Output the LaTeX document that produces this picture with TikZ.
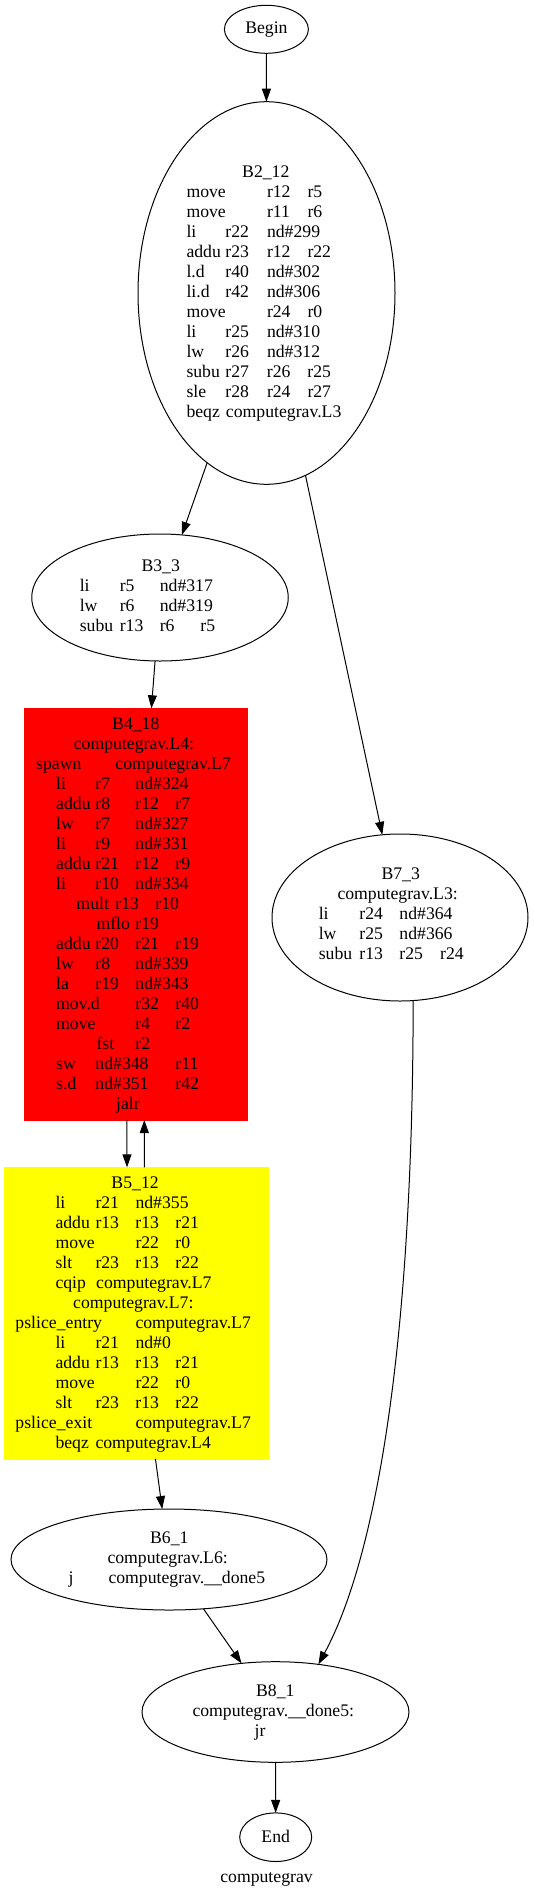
\documentclass[tikz,border=0pt]{standalone}
\usepackage{fontspec}
\setmainfont{Liberation Serif}
\usetikzlibrary{shapes.geometric,arrows.meta}
\definecolor{gvred}{RGB}{255,0,0}
\definecolor{gvyellow}{RGB}{255,255,0}
\newcommand\F[2]{\rlap{\hspace*{#1pt}#2}}
\newcommand\Ln[1]{\hbox{#1}}
\newcommand\Blk[1]{\vtop{\baselineskip=20pt\lineskiplimit=-100pt\lineskip=0pt #1}}
\begin{document}
\begin{tikzpicture}[x=1pt,y=-1pt,
  font=\fontsize{17.7}{20}\selectfont,
  ell/.style={ellipse, draw, line width=1pt, inner sep=0pt, outer sep=0pt},
  box/.style={rectangle, inner sep=0pt, outer sep=0pt},
  txt/.style={inner sep=0pt, outer sep=0pt, anchor=base west},
  ctxt/.style={inner sep=0pt, outer sep=0pt, anchor=base},
  edge/.style={-{Triangle[length=13pt,width=9pt]}, line width=1pt}]
\useasboundingbox (0,0) rectangle (533,1889);

% shapes
\node[ell, minimum width=84pt, minimum height=48pt] (begin) at (266.4,29.3) {};
\node[ell, minimum width=257pt, minimum height=382.6pt] (b2) at (266.5,293) {};
\node[ell, minimum width=256.5pt, minimum height=127pt] (b3) at (160,597.5) {};
\node[box, fill=gvred, draw=gvred, minimum width=223.3pt, minimum height=411.7pt] (b4) at (135.65,914.15) {};
\node[box, fill=gvyellow, draw=gvyellow, minimum width=263.7pt, minimum height=291.5pt] (b5) at (135.85,1313.05) {};
\node[ell, minimum width=256pt, minimum height=167pt] (b7) at (400,917.5) {};
\node[ell, minimum width=316pt, minimum height=101pt] (b6) at (169,1559.5) {};
\node[ell, minimum width=267pt, minimum height=100.6pt] (b8) at (275.5,1712) {};
\node[ell, minimum width=72pt, minimum height=48.6pt] (end) at (275.7,1837.2) {};

% texts
\node[ctxt] (begint) at (266.4,34) {Begin};
\node[ctxt] (endt) at (275.7,1842) {End};
\node[ctxt] (title) at (266.5,1882) {computegrav};

\node[txt] (b2t) at (186,178) {\Blk{%
\Ln{\F{55.7}{B2\_12}}
\Ln{\F{0}{move}\F{80.5}{r12}\F{121}{r5}}
\Ln{\F{0}{move}\F{80.5}{r11}\F{121}{r6}}
\Ln{\F{0}{li}\F{39}{r22}\F{80.5}{nd\#299}}
\Ln{\F{0}{addu}\F{39}{r23}\F{80.5}{r12}\F{121}{r22}}
\Ln{\F{0}{l.d}\F{39}{r40}\F{80.5}{nd\#302}}
\Ln{\F{0}{li.d}\F{39}{r42}\F{80.5}{nd\#306}}
\Ln{\F{0}{move}\F{80.5}{r24}\F{121}{r0}}
\Ln{\F{0}{li}\F{39}{r25}\F{80.5}{nd\#310}}
\Ln{\F{0}{lw}\F{39}{r26}\F{80.5}{nd\#312}}
\Ln{\F{0}{subu}\F{39}{r27}\F{80.5}{r26}\F{121}{r25}}
\Ln{\F{0}{sle}\F{39}{r28}\F{80.5}{r24}\F{121}{r27}}
\Ln{\F{0}{beqz}\F{39.5}{computegrav.L3}}}};

\node[txt] (b3t) at (79.3,571.7) {\Blk{%
\Ln{\F{61.7}{B3\_3}}
\Ln{\F{0}{li}\F{40}{r5}\F{80}{nd\#317}}
\Ln{\F{0}{lw}\F{40}{r6}\F{80}{nd\#319}}
\Ln{\F{0}{subu}\F{40}{r13}\F{80}{r6}\F{120.7}{r5}}}};

\node[txt] (b4t) at (35.7,729.3) {\Blk{%
\Ln{\F{76}{B4\_18}}
\Ln{\F{37.6}{computegrav.L4:}}
\Ln{\F{0}{spawn}\F{79.3}{computegrav.L7}}
\Ln{\F{20}{li}\F{59.3}{r7}\F{99.3}{nd\#324}}
\Ln{\F{20}{addu}\F{59.3}{r8}\F{99.3}{r12}\F{139.3}{r7}}
\Ln{\F{20}{lw}\F{59.3}{r7}\F{99.3}{nd\#327}}
\Ln{\F{20}{li}\F{59.3}{r9}\F{99.3}{nd\#331}}
\Ln{\F{20}{addu}\F{59.3}{r21}\F{99.3}{r12}\F{139.3}{r9}}
\Ln{\F{20}{li}\F{59.3}{r10}\F{99.3}{nd\#334}}
\Ln{\F{40.3}{mult}\F{79.3}{r13}\F{119.3}{r10}}
\Ln{\F{60.3}{mflo}\F{99.3}{r19}}
\Ln{\F{20}{addu}\F{59.3}{r20}\F{99.3}{r21}\F{139.3}{r19}}
\Ln{\F{20}{lw}\F{59.3}{r8}\F{99.3}{nd\#339}}
\Ln{\F{20}{la}\F{59.3}{r19}\F{99.3}{nd\#343}}
\Ln{\F{20}{mov.d}\F{99.3}{r32}\F{139.3}{r40}}
\Ln{\F{20}{move}\F{99.3}{r4}\F{139.3}{r2}}
\Ln{\F{60.3}{fst}\F{99.3}{r2}}
\Ln{\F{20}{sw}\F{59.3}{nd\#348}\F{139.3}{r11}}
\Ln{\F{20}{s.d}\F{59.3}{nd\#351}\F{139.3}{r42}}
\Ln{\F{80}{jalr}}}};

\node[txt] (b5t) at (15,1188.3) {\Blk{%
\Ln{\F{96}{B5\_12}}
\Ln{\F{40}{li}\F{80}{r21}\F{120}{nd\#355}}
\Ln{\F{40}{addu}\F{80}{r13}\F{120}{r13}\F{160}{r21}}
\Ln{\F{40}{move}\F{120}{r22}\F{160}{r0}}
\Ln{\F{40}{slt}\F{80}{r23}\F{120}{r13}\F{160}{r22}}
\Ln{\F{40}{cqip}\F{80.7}{computegrav.L7}}
\Ln{\F{57.7}{computegrav.L7:}}
\Ln{\F{0}{pslice\_entry}\F{120}{computegrav.L7}}
\Ln{\F{40}{li}\F{80}{r21}\F{120}{nd\#0}}
\Ln{\F{40}{addu}\F{80}{r13}\F{120}{r13}\F{160}{r21}}
\Ln{\F{40}{move}\F{120}{r22}\F{160}{r0}}
\Ln{\F{40}{slt}\F{80}{r23}\F{120}{r13}\F{160}{r22}}
\Ln{\F{0}{pslice\_exit}\F{120}{computegrav.L7}}
\Ln{\F{40}{beqz}\F{80}{computegrav.L4}}}};

\node[txt] (b7t) at (318.3,879.5) {\Blk{%
\Ln{\F{62.7}{B7\_3}}
\Ln{\F{18.7}{computegrav.L3:}}
\Ln{\F{0}{li}\F{40.7}{r24}\F{80.7}{nd\#364}}
\Ln{\F{0}{lw}\F{40.7}{r25}\F{80.7}{nd\#366}}
\Ln{\F{0}{subu}\F{40.7}{r13}\F{80.7}{r25}\F{121.4}{r24}}}};

\node[txt] (b6t) at (68,1543.7) {\Blk{%
\Ln{\F{81.6}{B6\_1}}
\Ln{\F{39}{computegrav.L6:}}
\Ln{\F{0}{j}\F{40}{computegrav.\_\_done5}}}};

\node[txt] (b8t) at (192,1696.6) {\Blk{%
\Ln{\F{63.6}{B8\_1}}
\Ln{\F{0}{computegrav.\_\_done5:}}
\Ln{\F{62.2}{jr}}}};

% connectors
\draw[edge] (begin) -- (b2);
\draw[edge] (b2) -- (b3);
\draw[edge] (b2) -- (b7);
\draw[edge] (b3) -- (b4);
\draw[edge] ([xshift=-8.7pt]b4.south) -- ([xshift=-8.85pt]b5.north);
\draw[edge] ([xshift=8.45pt]b5.north) -- ([xshift=8.65pt]b4.south);
\draw[edge] (b5) -- (b6);
\draw[edge] (b7.-81) .. controls (413,1350) and (375,1560) .. (b8.48);
\draw[edge] (b6) -- (b8);
\draw[edge] (b8) -- (end);
\end{tikzpicture}
\end{document}
